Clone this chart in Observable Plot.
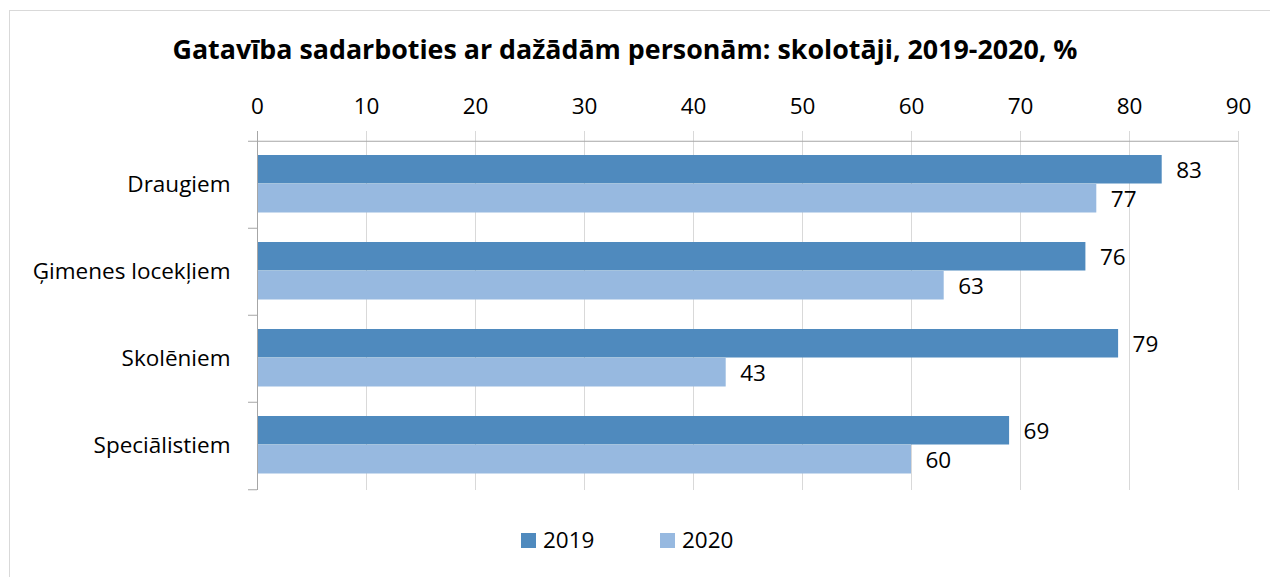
<!DOCTYPE html>
<html>
<head>
<meta charset="utf-8">
<script src="https://cdn.jsdelivr.net/npm/d3@7"></script>
<script src="https://cdn.jsdelivr.net/npm/@observablehq/plot@0.6"></script>
<style>
  html, body { margin: 0; padding: 0; background: #fff; overflow: hidden; }
  #wrap { position: relative; width: 1270px; height: 577px; font-family: "Open Sans", sans-serif; }
  #border { position: absolute; left: 9px; top: 10px; width: 1300px; height: 600px; border: 1px solid #D9D9D9; box-sizing: border-box; }
  #title { position: absolute; left: 0; width: 1250px; top: 33px; text-align: center; font-weight: bold; font-size: 26.8px; line-height: 32px; color: #000; white-space: nowrap; }
  #chart { position: absolute; left: 0; top: 0; }
  .leg { position: absolute; top: 527px; font-size: 22.5px; line-height: 26px; color: #000; display: flex; align-items: center; }
  .sw { width: 15px; height: 15px; display: inline-block; margin-right: 7px; }
</style>
</head>
<body>
<div id="wrap">
  <div id="border"></div>
  <div id="chart"></div>
  <div id="title"></div>
  <div id="legend"></div>
</div>
<script>
const titleText = "Gatavība sadarboties ar dažādām personām: skolotāji, 2019-2020, %";
const categories = ["Draugiem", "Ģimenes locekļiem", "Skolēniem", "Speciālistiem"];
const years = ["2019", "2020"];
const values2019 = [83, 76, 79, 69];
const values2020 = [77, 63, 43, 60];
const xTicks = [0, 10, 20, 30, 40, 50, 60, 70, 80, 90];
const colors = ["#4F8ABE", "#97B9E0"];

const rows2019 = categories.map((c, i) => ({category: c, year: years[0], value: values2019[i]}));
const rows2020 = categories.map((c, i) => ({category: c, year: years[1], value: values2020[i]}));

const step = 87.5;

const plot = Plot.plot({
  width: 1270,
  height: 577,
  marginTop: 140,
  marginBottom: 87,
  marginLeft: 257,
  marginRight: 32,
  style: {fontFamily: "'Open Sans', sans-serif", fontSize: "22.5px", background: "transparent", color: "#000"},
  x: {domain: [0, 90]},
  y: {domain: categories, paddingInner: 0, paddingOuter: 0},
  color: {domain: years, range: colors},
  marks: [
    Plot.gridX(xTicks, {stroke: "#D9D9D9", strokeOpacity: 1, insetTop: -9}),
    Plot.barX(rows2019, {x: "value", y: "category", fill: "year", insetTop: 14, insetBottom: 44.5}),
    Plot.barX(rows2020, {x: "value", y: "category", fill: "year", insetTop: 43, insetBottom: 15.5}),
    Plot.text(rows2019, {x: "value", y: "category", text: d => String(d.value), dx: 14, dy: -14, textAnchor: "start", fill: "#000", fontSize: 22.5}),
    Plot.text(rows2020, {x: "value", y: "category", text: d => String(d.value), dx: 14, dy: 15, textAnchor: "start", fill: "#000", fontSize: 22.5}),
    Plot.ruleX([0], {stroke: "#A6A6A6", insetTop: -9}),
    Plot.ruleY([categories[0]], {dy: -step / 2, stroke: "#A6A6A6", insetLeft: -9}),
    Plot.ruleY(categories.slice(1), {x1: 0, x2: 0, dy: -step / 2, stroke: "#A6A6A6", insetLeft: -9}),
    Plot.ruleY([categories[categories.length - 1]], {x1: 0, x2: 0, dy: step / 2, stroke: "#A6A6A6", insetLeft: -9}),
    Plot.axisX({anchor: "top", ticks: xTicks, tickSize: 0, tickPadding: 27, fontSize: 22.5, label: null}),
    Plot.axisY({tickSize: 0, tickPadding: 27, fontSize: 22.5, label: null})
  ]
});
document.getElementById("chart").appendChild(plot);
document.getElementById("title").textContent = titleText;

const legend = document.getElementById("legend");
const legendX = [521, 660];
years.forEach((y, i) => {
  const item = document.createElement("div");
  item.className = "leg";
  item.style.left = legendX[i] + "px";
  const sw = document.createElement("span");
  sw.className = "sw";
  sw.style.background = colors[i];
  item.appendChild(sw);
  item.appendChild(document.createTextNode(y));
  legend.appendChild(item);
});
</script>
</body>
</html>
